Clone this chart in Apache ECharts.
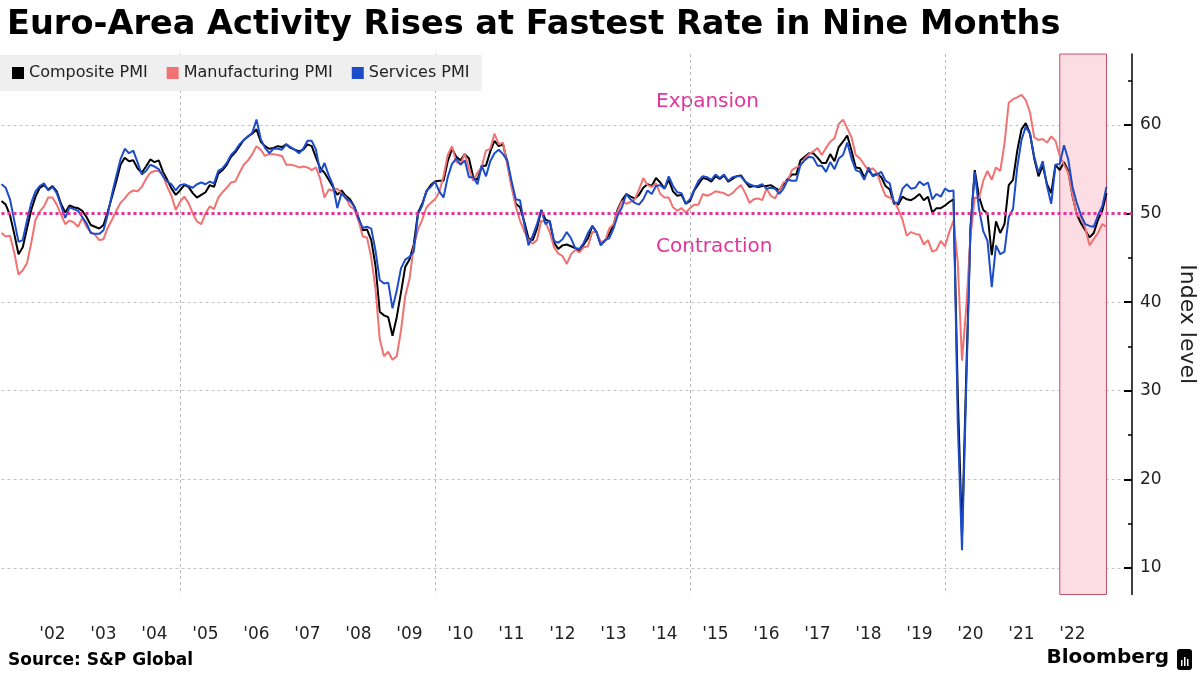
<!DOCTYPE html>
<html><head><meta charset="utf-8">
<script src="https://cdn.jsdelivr.net/npm/echarts@6/dist/echarts.min.js"></script>
<style>html,body{margin:0;padding:0;background:#fff}#c{width:1200px;height:675px}</style>
</head><body><div id="c"></div>
<script>
// Monthly categories (month-end points), Jun 2001 .. Aug 2023 (axis extends past last data point)
const firstMonth = [2001, 6];
const lastMonth = [2023, 8];
const months = [];
for (let y = firstMonth[0], m = firstMonth[1]; y < lastMonth[0] || (y === lastMonth[0] && m <= lastMonth[1]);) {
  months.push(y + '-' + String(m).padStart(2, '0'));
  m++; if (m > 12) { m = 1; y++; }
}
const seriesNames = ['Composite PMI', 'Manufacturing PMI', 'Services PMI'];
// Values from Jun 2001 to Feb 2023
const composite = [
  51.4, 51.0, 49.8, 47.7, 45.4, 46.2, 48.3,
  50.4, 51.9, 52.9, 53.2, 52.7, 53.1, 52.5, 51.1, 50.1, 50.9, 50.7, 50.6,
  50.3, 49.6, 48.7, 48.5, 48.3, 48.7, 50.2, 51.9, 53.6, 55.5, 56.3, 55.9,
  56.0, 55.1, 54.6, 55.3, 56.1, 55.8, 56.0, 54.7, 53.8, 52.8, 52.1, 52.6,
  53.2, 53.0, 52.3, 51.8, 52.1, 52.4, 53.2, 53.0, 54.5, 54.9, 55.5, 56.4,
  56.9, 57.6, 58.3, 58.7, 59.0, 59.5, 58.1, 57.6, 57.3, 57.4, 57.6, 57.5,
  57.8, 57.4, 57.2, 57.0, 57.2, 57.8, 57.6, 56.3, 55.1, 54.6, 53.8, 53.0,
  52.1, 52.6, 52.0, 51.6, 50.8, 49.5, 48.1, 48.2, 47.0, 44.1, 38.9, 38.5,
  38.3, 36.2, 38.3, 41.1, 44.0, 44.8, 46.5, 50.1, 51.1, 52.5, 53.2, 53.6,
  53.7, 53.7, 55.9, 57.3, 56.4, 56.0, 56.7, 56.2, 54.1, 53.8, 55.4, 55.4,
  57.0, 58.2, 57.6, 57.8, 55.8, 53.3, 51.1, 50.7, 49.1, 47.2, 47.0, 48.3,
  50.4, 49.3, 49.1, 46.7, 46.0, 46.4, 46.5, 46.3, 46.1, 45.7, 46.5, 47.2,
  48.6, 47.9, 46.5, 46.9, 47.7, 48.7, 50.5, 51.5, 52.2, 51.9, 51.7, 52.1,
  52.9, 53.3, 53.1, 54.0, 53.5, 52.8, 53.8, 52.5, 52.0, 52.1, 51.1, 51.4,
  52.6, 53.3, 54.0, 53.9, 53.6, 54.2, 53.9, 54.3, 53.6, 53.9, 54.2, 54.3,
  53.6, 53.0, 53.1, 53.0, 53.1, 53.1, 53.2, 52.9, 52.6, 53.3, 53.9, 54.4,
  54.4, 56.0, 56.4, 56.8, 56.8, 56.3, 55.7, 55.7, 56.7, 55.9, 57.5, 58.1,
  58.8, 57.1, 55.2, 55.1, 54.1, 54.9, 54.3, 54.5, 54.1, 53.1, 52.7, 51.1,
  51.0, 51.9, 51.6, 51.5, 51.8, 52.2, 51.5, 51.9, 50.1, 50.6, 50.6, 50.9,
  51.3, 51.6, 29.7, 13.6, 31.9, 48.5, 54.9, 51.9, 50.4, 50.0, 45.3, 49.1,
  47.8, 48.8, 53.2, 53.8, 57.1, 59.5, 60.2, 59.0, 56.2, 54.2, 55.4, 53.3,
  52.3, 55.5, 54.9, 55.8, 54.8, 52.0, 49.9, 48.9, 48.1, 47.3, 47.8, 49.3,
  50.3, 52.3
];
const manufacturing = [
  47.8, 47.4, 47.5, 45.6, 43.1, 43.6, 44.4,
  46.7, 49.3, 50.2, 50.8, 51.8, 51.8, 51.0, 49.9, 48.8, 49.2, 49.0, 48.5,
  49.5, 48.5, 47.9, 47.6, 47.0, 47.1, 48.4, 49.3, 50.3, 51.2, 51.7, 52.3,
  52.6, 52.5, 53.0, 53.9, 54.6, 54.8, 54.8, 54.3, 53.0, 52.0, 50.4, 51.3,
  51.9, 51.2, 50.0, 49.1, 48.8, 50.0, 50.8, 50.5, 51.8, 52.4, 52.9, 53.5,
  53.6, 54.6, 55.5, 56.0, 56.7, 57.6, 57.2, 56.5, 56.7, 56.7, 56.6, 56.5,
  55.5, 55.5, 55.4, 55.2, 55.3, 55.2, 54.9, 55.2, 53.9, 51.8, 52.7, 52.6,
  52.8, 52.3, 51.8, 50.8, 50.5, 49.2, 47.4, 47.3, 45.0, 41.5, 35.8, 33.9,
  34.4, 33.5, 33.9, 36.8, 40.7, 42.6, 46.3, 48.2, 49.3, 50.7, 51.2, 51.6,
  52.4, 54.2, 56.6, 57.6, 55.8, 55.6, 56.7, 55.1, 53.7, 54.6, 55.3, 57.1,
  57.3, 59.0, 57.8, 58.0, 55.5, 53.0, 50.8, 49.2, 48.0, 47.0, 46.6, 47.0,
  49.2, 49.0, 47.9, 46.2, 45.5, 45.2, 44.3, 45.4, 45.9, 45.6, 46.2, 46.3,
  47.9, 47.9, 46.8, 46.9, 48.3, 48.8, 50.3, 51.4, 51.1, 51.3, 51.6, 52.7,
  54.0, 53.2, 53.0, 53.4, 52.2, 51.8, 51.8, 50.7, 50.3, 50.6, 50.1, 50.6,
  51.0, 51.0, 52.2, 52.0, 52.2, 52.5, 52.4, 52.3, 52.0, 52.3, 52.8, 53.2,
  52.3, 51.2, 51.6, 51.7, 51.5, 52.8, 52.0, 51.7, 52.6, 53.5, 53.7, 54.9,
  55.2, 55.4, 56.2, 56.7, 57.0, 57.4, 56.6, 57.4, 58.1, 58.5, 60.1, 60.6,
  59.6, 58.6, 56.6, 56.2, 55.5, 54.9, 55.1, 54.6, 53.2, 52.0, 51.8, 51.4,
  50.5, 49.3, 47.5, 47.9, 47.7, 47.6, 46.5, 47.0, 45.7, 45.9, 46.9, 46.3,
  47.9, 49.2, 44.5, 33.4, 39.4, 47.4, 51.8, 51.7, 53.7, 54.8, 53.8, 55.2,
  54.8, 57.9, 62.5, 62.9, 63.1, 63.4, 62.8, 61.4, 58.6, 58.3, 58.4, 58.0,
  58.7, 58.2, 56.5, 55.5, 54.6, 52.1, 49.8, 49.6, 48.4, 46.4, 47.1, 47.8,
  48.8, 48.5
];
const services = [
  53.3, 52.9, 51.6, 49.2, 46.8, 47.0, 49.2,
  51.2, 52.5, 53.1, 53.4, 52.6, 53.0, 52.3, 50.9, 49.5, 50.7, 50.5, 50.3,
  49.6, 48.9, 47.8, 47.7, 47.7, 48.1, 49.9, 52.2, 54.2, 56.1, 57.3, 56.8,
  57.1, 55.8, 54.4, 54.8, 55.5, 55.3, 55.0, 54.2, 53.6, 53.3, 52.6, 53.2,
  53.3, 53.1, 52.9, 53.3, 53.5, 53.3, 53.6, 53.4, 54.8, 55.1, 55.7, 56.6,
  57.1, 57.8, 58.3, 58.7, 59.1, 60.6, 58.4, 57.4, 56.8, 57.3, 57.3, 57.2,
  57.8, 57.5, 57.2, 56.8, 57.3, 58.2, 58.2, 57.2, 54.6, 55.7, 54.3, 53.2,
  50.6, 52.3, 51.7, 51.4, 50.8, 49.4, 48.4, 48.5, 48.3, 45.8, 42.5, 42.1,
  42.2, 39.3, 41.3, 43.8, 44.8, 45.1, 45.7, 49.9, 50.9, 52.6, 53.0, 53.6,
  52.5, 51.8, 54.1, 55.6, 56.2, 55.5, 56.0, 54.1, 54.1, 53.3, 55.4, 54.2,
  55.9, 56.8, 57.2, 56.7, 56.0, 53.7, 51.6, 51.5, 48.8, 46.4, 47.5, 48.8,
  50.4, 48.8, 49.2, 46.9, 46.7, 47.1, 47.9, 47.2, 46.1, 46.0, 46.7, 47.8,
  48.6, 47.9, 46.4, 47.0, 47.2, 48.3, 49.8, 50.7, 52.2, 51.6, 51.2, 51.0,
  51.6, 52.6, 52.2, 53.1, 53.2, 52.8, 54.2, 53.1, 52.4, 52.3, 51.1, 51.6,
  52.7, 53.7, 54.2, 54.1, 53.8, 54.4, 54.0, 54.4, 53.7, 54.1, 54.2, 54.2,
  53.6, 53.3, 53.1, 53.1, 53.3, 52.8, 52.9, 52.8, 52.2, 52.8, 53.8, 53.7,
  53.7, 55.5, 56.0, 56.4, 56.3, 55.4, 55.4, 54.7, 55.8, 55.0, 56.2, 56.6,
  58.0, 56.2, 54.9, 54.7, 53.8, 55.2, 54.2, 54.4, 54.7, 53.7, 53.4, 51.2,
  51.2, 52.8, 53.3, 52.8, 52.9, 53.6, 53.2, 53.5, 51.6, 52.2, 51.9, 52.8,
  52.5, 52.6, 26.4, 12.0, 30.5, 48.3, 54.7, 50.5, 48.0, 46.9, 41.7, 46.4,
  45.4, 45.7, 49.6, 50.5, 55.2, 58.3, 59.8, 59.0, 56.4, 54.6, 55.9, 53.1,
  51.1, 55.5, 55.6, 57.7, 56.1, 53.0, 51.2, 49.8, 48.8, 48.6, 48.5, 49.8,
  50.8, 53.0
];
const yTicks = [10, 20, 30, 40, 50, 60];
const yMinorTicks = [15, 25, 35, 45, 55, 65];
const gridMonths = ['2004-12', '2009-12', '2014-12', '2019-12'];
const labelYears = ['2002','2003','2004','2005','2006','2007','2008','2009','2010','2011','2012','2013','2014','2015','2016','2017','2018','2019','2020','2021','2022'];
const shadeRange = ['2022-03', '2023-02'];
const threshold = 50;

const FONT = 'DejaVu Sans';
const PINK = '#e3349a';
const chart = echarts.init(document.getElementById('c'), null, { renderer: 'canvas' });
const isLabel = (v) => v.slice(5) === '06' && labelYears.includes(v.slice(0, 4));
chart.setOption({
  animation: false,
  backgroundColor: '#fff',
  title: {
    text: 'Euro-Area Activity Rises at Fastest Rate in Nine Months',
    left: 2, top: 3,
    textStyle: { fontFamily: FONT, fontWeight: 'bold', fontSize: 33.6, color: '#000' }
  },
  legend: {
    data: seriesNames, left: 0, top: 55, orient: 'horizontal',
    backgroundColor: '#efefef', padding: [10, 12, 10, 12], itemGap: 19,
    itemWidth: 12, itemHeight: 12, icon: 'rect',
    textStyle: { fontFamily: FONT, fontSize: 16, color: '#222' }
  },
  grid: { left: 1.5, right: 68, top: 54, bottom: 80.5, containLabel: false, outerBoundsMode: 'none' },
  xAxis: {
    type: 'category', data: months, boundaryGap: false,
    axisLine: { show: false }, axisTick: { show: false },
    axisLabel: {
      interval: (i, v) => isLabel(v),
      formatter: (v) => "'" + v.slice(2, 4),
      fontFamily: FONT, fontSize: 17, color: '#222', margin: 32
    },
    splitLine: {
      show: true, interval: (i, v) => gridMonths.includes(v),
      lineStyle: { color: '#b8b8b8', type: [3, 3], width: 1 }
    }
  },
  yAxis: [
    {
      type: 'value', position: 'right', min: 7, max: 68,
      axisLine: { show: true, lineStyle: { color: '#000', width: 1.5 } },
      axisTick: { show: true, inside: true, length: 8, customValues: yTicks, lineStyle: { color: '#000', width: 2 } },
      axisLabel: { customValues: yTicks, fontFamily: FONT, fontSize: 17, color: '#222', margin: 8 },
      splitLine: { show: true, lineStyle: { color: '#c4c4c4', type: [3, 3], width: 1 } },
      name: 'Index level', nameLocation: 'middle', nameRotate: -90, nameGap: 44,
      nameTextStyle: { fontFamily: FONT, fontSize: 22, color: '#222' }
    },
    {
      type: 'value', position: 'right', min: 7, max: 68,
      axisLine: { show: false },
      axisTick: { show: true, inside: true, length: 4, customValues: yMinorTicks, lineStyle: { color: '#000', width: 1.5 } },
      axisLabel: { show: false }, splitLine: { show: false }
    }
  ],
  series: [
    {
      name: 'shade', type: 'line', data: [], z: 1, silent: true,
      markArea: {
        silent: true,
        itemStyle: { color: '#fcdde3', borderColor: '#c4506a', borderWidth: 1 },
        data: [[{ xAxis: shadeRange[0] }, { xAxis: shadeRange[1] }]]
      }
    },
    {
      name: seriesNames[0], type: 'line', data: composite, showSymbol: false, z: 3,
      lineStyle: { color: '#000000', width: 2 }, itemStyle: { color: '#000000' }
    },
    {
      name: seriesNames[1], type: 'line', data: manufacturing, showSymbol: false, z: 3,
      lineStyle: { color: '#f07272', width: 2 }, itemStyle: { color: '#f07272' }
    },
    {
      name: seriesNames[2], type: 'line', data: services, showSymbol: false, z: 4,
      lineStyle: { color: '#1d4ccb', width: 2 }, itemStyle: { color: '#1d4ccb' },
      markLine: {
        silent: true, symbol: 'none', label: { show: false },
        lineStyle: { color: PINK, type: 'dotted', width: 3 },
        data: [{ yAxis: threshold }]
      }
    }
  ],
  graphic: [
    { type: 'text', left: 656, top: 92, style: { text: 'Expansion', fontFamily: FONT, fontSize: 20, fill: PINK } },
    { type: 'text', left: 656, top: 237, style: { text: 'Contraction', fontFamily: FONT, fontSize: 20, fill: PINK } },
    { type: 'text', left: 8, top: 652, style: { text: 'Source: S&P Global', fontFamily: FONT, fontWeight: 'bold', fontSize: 17, fill: '#000' } },
    { type: 'text', right: 31, top: 648, style: { text: 'Bloomberg', fontFamily: FONT, fontWeight: 'bold', fontSize: 20, fill: '#000' } },
    { type: 'rect', left: 1177, top: 649, shape: { width: 15, height: 21, r: 3 }, style: { fill: '#000' } },
    { type: 'rect', left: 1181, top: 660, shape: { width: 1.5, height: 6 }, style: { fill: '#fff' } },
    { type: 'rect', left: 1184, top: 657, shape: { width: 1.5, height: 9 }, style: { fill: '#fff' } },
    { type: 'rect', left: 1187, top: 659, shape: { width: 1.5, height: 7 }, style: { fill: '#fff' } }
  ]
});
</script></body></html>
